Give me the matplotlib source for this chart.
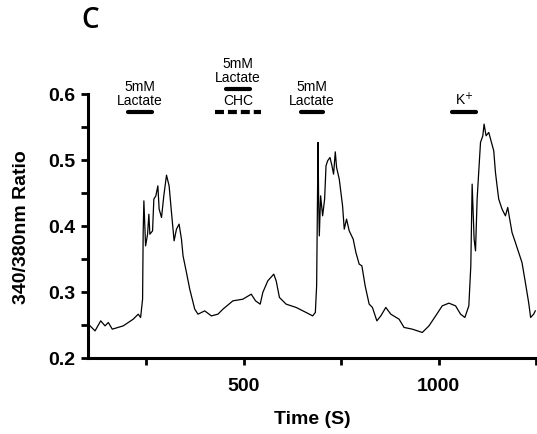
import numpy as np
import matplotlib.pyplot as plt
from matplotlib.ticker import MultipleLocator

# Trace (time in s, 340/380 ratio)
time_s = [105.1, 117.9, 132.5, 143.5, 152.0, 162.2, 190.4, 215.9, 228.8, 234.9,
          240.0, 241.5, 243.3, 247.7, 252.8, 256.1, 258.7, 265.6, 268.9, 274.1,
          279.2, 282.5, 288.6, 294.5, 301.4, 308.1, 314.2, 320.9, 327.0, 333.7,
          339.8, 343.9, 352.6, 361.1, 373.9, 382.3, 399.5, 416.6, 433.5, 446.3,
          471.9, 497.5, 519.0, 530.0, 542.0, 548.7, 561.5, 576.8, 583.0, 591.4,
          608.6, 634.2, 659.8, 676.7, 683.6, 686.9, 690.5, 692.0, 693.8, 697.1,
          702.3, 707.4, 711.0, 715.1, 721.2, 726.3, 730.4, 734.8, 738.1, 745.0,
          753.5, 757.8, 763.7, 770.6, 780.8, 787.7, 796.2, 803.1, 811.5, 821.8,
          830.2, 841.5, 851.7, 864.5, 877.3, 898.6, 911.4, 932.6, 958.2, 975.4,
          992.5, 1009.4, 1026.5, 1043.7, 1056.5, 1067.5, 1077.7, 1082.8, 1086.2, 1091.3,
          1094.9, 1099.0, 1103.3, 1107.7, 1113.6, 1116.9, 1122.0, 1128.9, 1135.8, 1141.7,
          1146.1, 1150.2, 1154.5, 1163.0, 1171.7, 1177.6, 1182.7, 1188.6, 1197.3, 1205.7,
          1214.2, 1222.9, 1231.3, 1236.4, 1244.1, 1248.4]
ratio = [0.2485, 0.2409, 0.2561, 0.2485, 0.2536, 0.2435, 0.2485, 0.2586, 0.2662, 0.2612,
         0.2889, 0.3900, 0.4379, 0.3697, 0.3874, 0.4177, 0.3874, 0.3924, 0.4405, 0.4455,
         0.4606, 0.4253, 0.4127, 0.4455, 0.4768, 0.4606, 0.4203, 0.3773, 0.3950, 0.4026,
         0.3798, 0.3545, 0.3294, 0.3041, 0.2738, 0.2662, 0.2712, 0.2636, 0.2662, 0.2738,
         0.2864, 0.2889, 0.2965, 0.2864, 0.2814, 0.2991, 0.3167, 0.3268, 0.3167, 0.2915,
         0.2814, 0.2764, 0.2688, 0.2636, 0.2688, 0.3091, 0.5264, 0.4405, 0.3848, 0.4455,
         0.4152, 0.4405, 0.4909, 0.4985, 0.5036, 0.4909, 0.4783, 0.5121, 0.4885, 0.4708,
         0.4303, 0.3950, 0.4102, 0.3924, 0.3798, 0.3597, 0.3420, 0.3394, 0.3091, 0.2814,
         0.2764, 0.2561, 0.2636, 0.2764, 0.2662, 0.2586, 0.2461, 0.2435, 0.2385, 0.2485,
         0.2636, 0.2788, 0.2829, 0.2788, 0.2662, 0.2612, 0.2788, 0.3394, 0.4632, 0.3798,
         0.3621, 0.4405, 0.4833, 0.5264, 0.5364, 0.5541, 0.5364, 0.5415, 0.5264, 0.5136,
         0.4809, 0.4606, 0.4405, 0.4253, 0.4152, 0.4279, 0.4102, 0.3900, 0.3748, 0.3597,
         0.3445, 0.3142, 0.2839, 0.2612, 0.2662, 0.2712]

# treatment bars: (start, end, y)
solid_bars = [(203, 263, 0.572), (455, 515, 0.607), (647, 702, 0.572), (1035, 1095, 0.572)]
dashed_bar = (425, 545, 0.572)
labels = [(233, 0.580, "5mM\nLactate"), (485, 0.615, "5mM\nLactate"),
          (485, 0.580, "CHC"), (675, 0.580, "5mM\nLactate"), (1065, 0.580, "K$^{+}$")]

fig = plt.figure(figsize=(5.37, 4.35), dpi=100)
ax = fig.add_axes([0.164, 0.175, 0.834, 0.607])

ax.plot(time_s, ratio, color="black", lw=0.9)

for x0, x1, y in solid_bars:
    ax.plot([x0, x1], [y, y], color="black", lw=3, solid_capstyle="round", clip_on=False)
ax.plot([dashed_bar[0], dashed_bar[1]], [dashed_bar[2]] * 2, color="black", lw=3,
        dashes=(2.15, 0.95), dash_capstyle="butt", clip_on=False)
for x, y, t in labels:
    ax.text(x, y, t, ha="center", va="bottom", fontsize=10, family="Liberation Sans",
            linespacing=1.0, clip_on=False)

ax.set_xlim(100, 1250)
ax.set_ylim(0.2, 0.6)
ax.xaxis.set_major_locator(MultipleLocator(500))
ax.xaxis.set_minor_locator(MultipleLocator(250))
ax.yaxis.set_major_locator(MultipleLocator(0.1))
ax.yaxis.set_minor_locator(MultipleLocator(0.05))
ax.set_yticks([0.2, 0.3, 0.4, 0.5, 0.6])
ax.set_yticklabels(["0.2", "0.3", "0.4", "0.5", "0.6"])

for s in ["top", "right"]:
    ax.spines[s].set_visible(False)
for s in ["left", "bottom"]:
    ax.spines[s].set_linewidth(2.2)
ax.tick_params(which="both", direction="out", length=5, width=2, color="black")
ax.tick_params(axis="both", labelsize=14)
ax.tick_params(axis="y", pad=4)
ax.tick_params(axis="x", pad=9)
for lab in ax.get_xticklabels() + ax.get_yticklabels():
    lab.set_fontweight("bold")
    lab.set_family("Liberation Sans")

ax.set_xlabel("Time (S)", fontsize=14, fontweight="bold", family="Liberation Sans", labelpad=11)
ax.set_ylabel("340/380nm Ratio", fontsize=14, fontweight="bold", family="Liberation Sans", labelpad=13)

fig.text(0.152, 0.952, "C", fontsize=20, family="Open Sans", fontweight="semibold",
         ha="left", va="center")

fig.savefig("out.png", dpi=100)
